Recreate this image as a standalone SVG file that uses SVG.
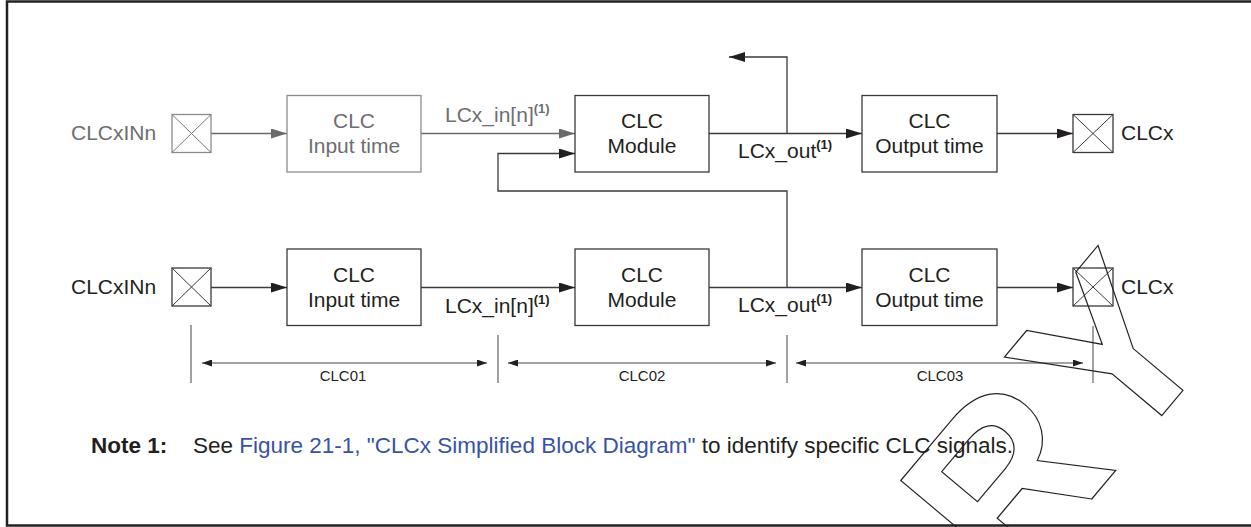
<svg xmlns="http://www.w3.org/2000/svg" width="1251" height="527" viewBox="0 0 1251 527">
<style>
.t{font-family:"Liberation Sans",Arial,sans-serif;font-size:21px;fill:#231f20}
.g{fill:#6d6e71}
.c{text-anchor:middle}
.sup{font-size:13px;font-weight:bold}
.box{fill:#fff;stroke:#3a3a3a;stroke-width:1.3}
.gbox{fill:#fff;stroke:#8c8c8c;stroke-width:1.3}
.x{stroke:#3a3a3a;stroke-width:1}
.gx{stroke:#7a7a7a;stroke-width:1}
.ln{fill:none;stroke:#3a3a3a;stroke-width:1.3}
.gln{fill:none;stroke:#6a6a6a;stroke-width:1.3}
.dim{fill:none;stroke:#444;stroke-width:1}
.dl{font-family:"Liberation Sans",Arial,sans-serif;font-size:15px;fill:#231f20;text-anchor:middle}
.note{font-family:"Liberation Sans",Arial,sans-serif;font-size:22.5px;fill:#231f20}
.lnk{fill:#3953a4}
</style>
<defs>
<marker id="ad" markerUnits="userSpaceOnUse" markerWidth="16" markerHeight="10" refX="16" refY="5" orient="auto"><path d="M0,0 L16,5 L0,10 z" fill="#231f20"/></marker>
<marker id="ag" markerUnits="userSpaceOnUse" markerWidth="16" markerHeight="10" refX="16" refY="5" orient="auto"><path d="M0,0 L16,5 L0,10 z" fill="#6a6a6a"/></marker>
<marker id="as" markerUnits="userSpaceOnUse" markerWidth="10" markerHeight="7" refX="10" refY="3.5" orient="auto-start-reverse"><path d="M0,0 L10,3.5 L0,7 z" fill="#231f20"/></marker>
</defs>
<rect x="7" y="1.5" width="1252" height="524" fill="#fff" stroke="#222" stroke-width="2.5"/>

<g id="connectors">
<path class="gln" d="M211,133.5 H287" marker-end="url(#ag)"/>
<path class="gln" d="M421,133.5 H575" marker-end="url(#ag)"/>
<path class="ln" d="M709,133.5 H862" marker-end="url(#ad)"/>
<path class="ln" d="M787,133.5 V57 H729" marker-end="url(#ad)"/>
<path class="ln" d="M997,133.5 H1073" marker-end="url(#ad)"/>
<path class="ln" d="M787,287.5 V191 H498 V153.5 H575" marker-end="url(#ad)"/>
<path class="ln" d="M211,287.5 H287" marker-end="url(#ad)"/>
<path class="ln" d="M421,287.5 H575" marker-end="url(#ad)"/>
<path class="ln" d="M709,287.5 H862" marker-end="url(#ad)"/>
<path class="ln" d="M997,287.5 H1073" marker-end="url(#ad)"/>
<text class="t g" x="445" y="122">LCx_in[n]<tspan class="sup" dy="-9">(1)</tspan></text>
<text class="t" x="738" y="158">LCx_out<tspan class="sup" dy="-9">(1)</tspan></text>
<text class="t" x="445" y="313">LCx_in[n]<tspan class="sup" dy="-9">(1)</tspan></text>
<text class="t" x="738" y="312">LCx_out<tspan class="sup" dy="-9">(1)</tspan></text>
</g>

<g id="in1">
<text class="t g" x="71" y="140">CLCxINn</text>
<rect class="gbox" x="172" y="114.5" width="39" height="38"/>
<path class="gx" d="M172,114.5 L211,152.5 M211,114.5 L172,152.5"/>
</g>
<g id="inputtime1">
<rect class="gbox" x="287" y="95.5" width="134" height="76.5"/>
<text class="t g c" x="354" y="128">CLC</text>
<text class="t g c" x="354" y="153">Input time</text>
</g>
<g id="module1">
<rect class="box" x="575" y="95.5" width="134" height="76.5"/>
<text class="t c" x="642" y="128">CLC</text>
<text class="t c" x="642" y="153">Module</text>
</g>
<g id="outputtime1">
<rect class="box" x="862" y="95.5" width="135" height="76.5"/>
<text class="t c" x="929.5" y="128">CLC</text>
<text class="t c" x="929.5" y="153">Output time</text>
</g>
<g id="out1">
<rect class="box" x="1073" y="114.5" width="40" height="38"/>
<path class="x" d="M1073,114.5 L1113,152.5 M1113,114.5 L1073,152.5"/>
<text class="t" x="1121" y="140">CLCx</text>
</g>

<g id="in2">
<text class="t" x="71" y="294">CLCxINn</text>
<rect class="box" x="172" y="268" width="39" height="38"/>
<path class="x" d="M172,268 L211,306 M211,268 L172,306"/>
</g>
<g id="inputtime2">
<rect class="box" x="287" y="249" width="134" height="76.5"/>
<text class="t c" x="354" y="282">CLC</text>
<text class="t c" x="354" y="307">Input time</text>
</g>
<g id="module2">
<rect class="box" x="575" y="249" width="134" height="76.5"/>
<text class="t c" x="642" y="282">CLC</text>
<text class="t c" x="642" y="307">Module</text>
</g>
<g id="outputtime2">
<rect class="box" x="862" y="249" width="135" height="76.5"/>
<text class="t c" x="929.5" y="282">CLC</text>
<text class="t c" x="929.5" y="307">Output time</text>
</g>
<g id="out2">
<rect class="box" x="1073" y="268" width="40" height="38"/>
<path class="x" d="M1073,268 L1113,306 M1113,268 L1073,306"/>
<text class="t" x="1121" y="294">CLCx</text>
</g>

<g id="dimensions">
<path class="dim" d="M191,325 V383 M498,335 V383 M787,335 V383 M1093,326 V383"/>
<path class="dim" d="M202,363 H487" marker-start="url(#as)" marker-end="url(#as)"/>
<path class="dim" d="M508,363 H776" marker-start="url(#as)" marker-end="url(#as)"/>
<path class="dim" d="M796,363 H1083" marker-start="url(#as)" marker-end="url(#as)"/>
<text class="dl" x="343" y="381">CLC01</text>
<text class="dl" x="642" y="381">CLC02</text>
<text class="dl" x="940" y="381">CLC03</text>
</g>

<g id="note">
<text class="note" x="91" y="453" font-weight="bold">Note 1:</text>
<text class="note" x="193" y="453">See <tspan class="lnk">Figure 21-1, "CLCx Simplified Block Diagram"</tspan> to identify specific CLC signals.</text>
</g>

<g id="watermark" transform="translate(1012,594) rotate(-50)">
<text x="0" y="0" font-family="'Liberation Sans',Arial,sans-serif" font-size="230" font-weight="bold" fill="none" stroke="#231f20" stroke-width="1.2">R<tspan dx="15">Y</tspan></text>
</g>
</svg>
